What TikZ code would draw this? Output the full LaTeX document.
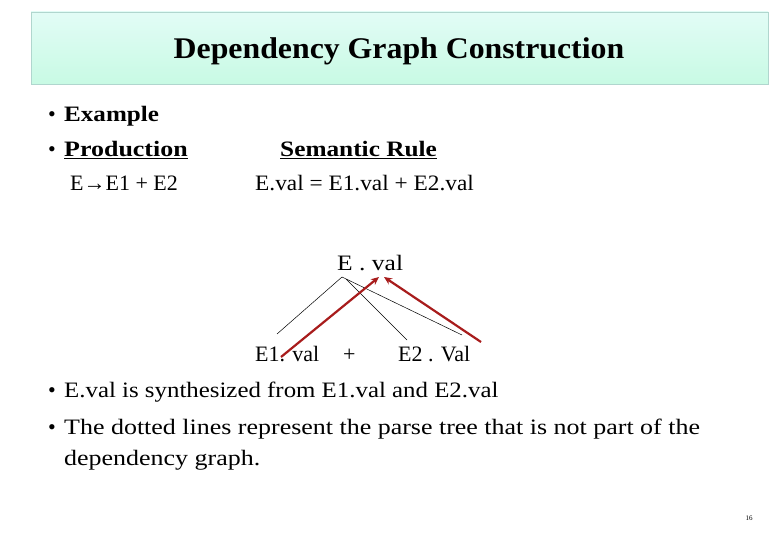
\documentclass[tikz,border=0pt]{standalone}
\usepackage{fontspec}
\setmainfont{Liberation Serif}
\usetikzlibrary{arrows.meta}
\definecolor{titletop}{RGB}{226,252,246}
\definecolor{titlebot}{RGB}{200,250,228}
\definecolor{titleframe}{RGB}{176,214,206}
\definecolor{arrowred}{RGB}{168,28,28}
\newcommand{\xwide}[2]{\scalebox{#1}[1]{#2}}
\tikzset{
  body/.style={anchor=base west, inner sep=0pt, font=\fontsize{22}{26}\selectfont},
  bul/.style={anchor=base, inner sep=0pt, font=\fontsize{22}{26}\selectfont},
  tree/.style={draw=black, line width=0.5pt},
  dep/.style={draw=arrowred, line width=2.2pt, -{Stealth[length=8pt,width=7pt]}},
}
\begin{document}
\begin{tikzpicture}[x=1pt,y=-1pt]
\useasboundingbox (0,0) rectangle (780,540);
\fill[white] (0,0) rectangle (780,540);
% title
\shade[top color=titletop, bottom color=titlebot] (31,12) rectangle (768,84);
\draw[titleframe, line width=0.8pt] (31,12) rectangle (768,84);
\node[inner sep=0pt, font=\fontsize{30}{33}\bfseries\selectfont] (title) at (399,51) {\xwide{1.06}{Dependency Graph Construction}};
% bullets
\node[bul] (b1) at (52,122) {•};
\node[body] (ex) at (64,122) {\xwide{1.14}{\textbf{Example}}};
\node[bul] (b2) at (52,157) {•};
\node[body] (prod) at (64,157) {\xwide{1.18}{\textbf{\underline{Production}}}};
\node[body] (sem) at (280,157) {\xwide{1.15}{\textbf{\underline{Semantic Rule}}}};
\node[body] (pr) at (70,191) {E→E1 + E2};
\node[body] (rule) at (255,191) {\xwide{1.06}{E.val = E1.val + E2.val}};
% tree
\node[body] (top) at (337,271) {\xwide{1.16}{E . val}};
\node[body] (e1) at (255,362) {E1. val};
\node[body] (plus) at (343,362) {+};
\node[body] (e2) at (398,362) {E2 . Val};
\coordinate (apex) at (342,277);
\coordinate (apexb) at (346,279);
\coordinate (l1) at (277,334);
\coordinate (l2) at (407,340);
\coordinate (l3) at (462,335);
\draw[tree] (apex) -- (l1);
\draw[tree] (apexb) -- (l2);
\draw[tree] (apex) -- (l3);
\coordinate (r1s) at (281,357);
\coordinate (r1e) at (379,277);
\coordinate (r2s) at (481,342);
\coordinate (r2e) at (384,277);
\draw[dep] (r1s) -- (r1e);
\draw[dep] (r2s) -- (r2e);
% lower bullets
\node[bul] (b3) at (52,398) {•};
\node[body] (s1) at (64,398) {\xwide{1.13}{E.val is synthesized from E1.val and E2.val}};
\node[bul] (b4) at (52,434) {•};
\node[body] (s2) at (64,434) {\xwide{1.18}{The dotted lines represent the parse tree that is not part of the}};
\node[body] (s3) at (64,465) {\xwide{1.18}{dependency graph.}};
\node[inner sep=0pt, font=\fontsize{7}{8}\selectfont] (pg) at (749,518) {16};
\end{tikzpicture}
\end{document}
